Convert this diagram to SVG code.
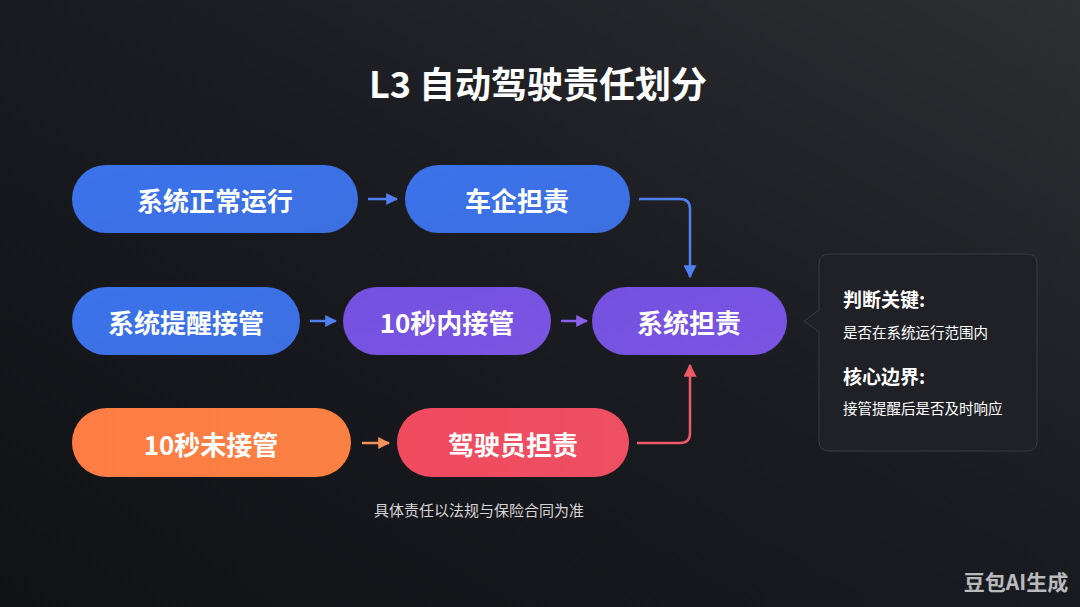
<svg xmlns="http://www.w3.org/2000/svg" width="1080" height="607" viewBox="0 0 1080 607">
<defs>
<linearGradient id="bg" x1="0" y1="1" x2="1" y2="0">
<stop offset="0" stop-color="#111216"/>
<stop offset="0.55" stop-color="#1b1c21"/>
<stop offset="1" stop-color="#2e2f33"/>
</linearGradient>
<linearGradient id="gBlue" x1="0" y1="0" x2="1" y2="1">
<stop offset="0" stop-color="#3b73ec"/>
<stop offset="1" stop-color="#3d6fe0"/>
</linearGradient>
<linearGradient id="gPurple" x1="0" y1="0" x2="1" y2="1">
<stop offset="0" stop-color="#7451e0"/>
<stop offset="1" stop-color="#7b55e2"/>
</linearGradient>
<linearGradient id="gOrange" x1="0" y1="0" x2="1" y2="0">
<stop offset="0" stop-color="#ff7d45"/>
<stop offset="1" stop-color="#f98042"/>
</linearGradient>
<linearGradient id="gRed" x1="0" y1="0" x2="1" y2="0">
<stop offset="0" stop-color="#f04a5f"/>
<stop offset="1" stop-color="#ee4f62"/>
</linearGradient>
<marker id="aBlue" viewBox="0 0 10 10" refX="9" refY="5" markerWidth="12" markerHeight="12" markerUnits="userSpaceOnUse" orient="auto"><path d="M0,0 L10,5 L0,10 z" fill="#4f7ff0"/></marker>
<marker id="aPurple" viewBox="0 0 10 10" refX="9" refY="5" markerWidth="12" markerHeight="12" markerUnits="userSpaceOnUse" orient="auto"><path d="M0,0 L10,5 L0,10 z" fill="#8a60ea"/></marker>
<marker id="aOrange" viewBox="0 0 10 10" refX="9" refY="5" markerWidth="12" markerHeight="12" markerUnits="userSpaceOnUse" orient="auto"><path d="M0,0 L10,5 L0,10 z" fill="#f5915a"/></marker>
<marker id="aRed" viewBox="0 0 10 10" refX="9" refY="5" markerWidth="13" markerHeight="13" markerUnits="userSpaceOnUse" orient="auto"><path d="M0,0 L10,5 L0,10 z" fill="#ee5a67"/></marker>
<marker id="aBlueL" viewBox="0 0 10 10" refX="9" refY="5" markerWidth="13" markerHeight="13" markerUnits="userSpaceOnUse" orient="auto"><path d="M0,0 L10,5 L0,10 z" fill="#4f7ff0"/></marker>
</defs>
<style>
.pt{font-family:"Noto Sans CJK SC","Noto Sans",sans-serif;font-weight:700;font-size:26px;fill:#ffffff;text-anchor:middle;dominant-baseline:central}
.t{font-family:"Noto Sans CJK SC","Noto Sans",sans-serif;fill:#ffffff}
.c{fill:none;stroke-width:2.5}
</style>
<rect width="1080" height="607" fill="url(#bg)"/>
<text class="t" x="538" y="98" font-size="36" font-weight="700" text-anchor="middle">L3 自动驾驶责任划分</text>

<g id="connectors">
<line class="c" x1="368" y1="199" x2="397" y2="199" stroke="#4f7ff0" marker-end="url(#aBlue)"/>
<line class="c" x1="310" y1="321" x2="336" y2="321" stroke="#4f7ff0" marker-end="url(#aBlue)"/>
<line class="c" x1="561" y1="321" x2="587" y2="321" stroke="#8a60ea" marker-end="url(#aPurple)"/>
<line class="c" x1="362" y1="443" x2="389" y2="443" stroke="#f5915a" marker-end="url(#aOrange)"/>
<path class="c" d="M639,199 H680 Q690,199 690,209 V277" stroke="#4f7ff0" marker-end="url(#aBlueL)"/>
<path class="c" d="M637,443 H680 Q690,443 690,433 V365" stroke="#ee5a67" marker-end="url(#aRed)"/>
</g>

<g id="n1"><rect x="72" y="165" width="286" height="68" rx="34" fill="url(#gBlue)"/><text class="pt" x="215" y="199">系统正常运行</text></g>
<g id="n2"><rect x="405" y="165" width="225" height="68" rx="34" fill="url(#gBlue)"/><text class="pt" x="517" y="199">车企担责</text></g>
<g id="n3"><rect x="72" y="287" width="228" height="68" rx="34" fill="url(#gBlue)"/><text class="pt" x="186" y="321">系统提醒接管</text></g>
<g id="n4"><rect x="343" y="287" width="208" height="68" rx="34" fill="url(#gPurple)"/><text class="pt" x="447" y="321">10秒内接管</text></g>
<g id="n5"><rect x="592" y="287" width="195" height="68" rx="34" fill="url(#gPurple)"/><text class="pt" x="689" y="321">系统担责</text></g>
<g id="n6"><rect x="72" y="408" width="279" height="69" rx="34.5" fill="url(#gOrange)"/><text class="pt" x="211" y="443">10秒未接管</text></g>
<g id="n7"><rect x="397" y="408" width="232" height="69" rx="34.5" fill="url(#gRed)"/><text class="pt" x="513" y="443">驾驶员担责</text></g>

<g id="info">
<path d="M829,254 H1027 Q1037,254 1037,264 V441 Q1037,451 1027,451 H829 Q819,451 819,441 V332 L804,321 L819,310 V264 Q819,254 829,254 Z" fill="#202126" stroke="#3a3b41" stroke-width="1"/>
<text class="t" x="843" y="307" font-size="19" font-weight="700">判断关键:</text>
<text class="t" x="843" y="338" font-size="14.5">是否在系统运行范围内</text>
<text class="t" x="843" y="384" font-size="19" font-weight="700">核心边界:</text>
<text class="t" x="843" y="414" font-size="14.5">接管提醒后是否及时响应</text>
</g>

<text class="t" x="479" y="516" font-size="15" text-anchor="middle" style="fill:#d6d6d8">具体责任以法规与保险合同为准</text>
<text class="t" x="1016" y="590" font-size="21" font-weight="700" text-anchor="middle" style="fill:#b9babd">豆包AI生成</text>
</svg>
